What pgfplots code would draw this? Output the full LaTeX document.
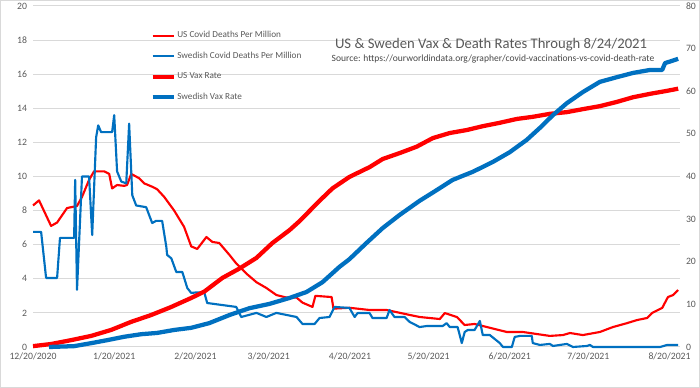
\documentclass[border=0pt]{standalone}
\usepackage{fontspec}
\setmainfont{Carlito}
\usepackage{pgfplots}
\pgfplotsset{compat=1.18}
\definecolor{usred}{RGB}{255,0,0}
\definecolor{seblue}{RGB}{0,112,192}
\definecolor{gridgray}{RGB}{217,217,217}
\definecolor{txtgray}{RGB}{89,89,89}
\begin{document}
\begin{tikzpicture}
\useasboundingbox (0,0) rectangle (525pt,291pt);
\draw[gridgray, line width=0.75pt] (0.4pt,0.4pt) rectangle (524.6pt,290.6pt);
\pgfplotsset{
  common/.style={
    at={(24.75pt,30.75pt)}, anchor=south west, scale only axis,
    width=485.25pt, height=255.75pt,
    xmin=0, xmax=247,
    axis line style={draw=none},
    major tick length=0pt,
    tick label style={font=\fontsize{7.3}{8}\selectfont, text=txtgray},
    /pgf/number format/assume math mode=true,
    clip=false,
  }
}
\begin{axis}[common,
  ymin=0, ymax=20, ytick={0,2,...,20},
  ymajorgrids, grid style={gridgray, line width=0.75pt},
  yticklabel style={xshift=-1pt},
  xtick={0,31,62,90,121,151,182,212,243},
  xticklabels={12/20/2020,1/20/2021,2/20/2021,3/20/2021,4/20/2021,5/20/2021,6/20/2021,7/20/2021,8/20/2021},
  xticklabel style={yshift=-1pt},
]
% US Covid deaths per million
\addplot[usred, line width=1.6pt, line join=round] coordinates {
(0,8.3) (2.3,8.6) (6.9,7.1) (9.2,7.3) (13,8.15) (16.8,8.27) (18.7,8.8) (21.4,9.8)
(23.3,10.3) (27.2,10.3) (29.1,10.15) (30.2,9.3) (32.1,9.5) (34.8,9.45) (35.9,9.5)
(37.5,10.15) (40.5,9.9) (42.4,9.6) (45.5,9.4) (47.4,9.25) (50.1,8.8) (53.9,8.0)
(57.7,7.04) (60.4,5.9) (62.7,5.75) (66.2,6.45) (68.5,6.16) (71.1,6.1) (75,5.4)
(77.6,4.9) (81.5,4.3) (85.3,3.8) (89.1,3.46) (92.9,3.05) (96.7,2.9) (100.6,2.9)
(102.9,2.6) (106.7,2.35) (107.8,3.0) (114,2.93) (114.7,2.25) (120.8,2.3) (128.5,2.17)
(135,2.17) (143.8,1.88) (147.6,1.76) (155.3,1.64) (157.2,1.99) (161.8,1.76) (164.8,1.29)
(168.6,1.35) (171.7,1.23) (180.9,0.88) (187,0.88) (197.3,0.65) (202.3,0.7) (205,0.82)
(209.9,0.7) (216.4,0.88) (221.4,1.17) (226.8,1.4) (230.6,1.58) (234.4,1.7) (236.3,1.99)
(240.2,2.29) (242.4,2.93) (244.4,3.05) (246.3,3.34)
};
% Swedish Covid deaths per million
\addplot[seblue, line width=1.6pt, line join=round] coordinates {
(0,6.75) (3.1,6.75) (5,4.05) (9.2,4.05) (10.3,6.4) (15.7,6.4) (16.1,9.8) (16.8,3.35)
(18.7,10.0) (21.4,10.0) (22.6,6.57) (24.1,12.3) (24.9,13.0) (26,12.6) (30.2,12.6)
(31,13.6) (32.1,10.3) (33.7,9.7) (35.6,9.6) (36.7,13.1) (37.9,8.9) (39.4,8.3) (43.2,8.2)
(45.5,7.27) (47,7.4) (49.3,7.4) (50.9,5.87) (51.2,5.4) (52.8,5.2) (54.7,4.4) (57,4.4)
(58.9,3.46) (60.4,3.17) (62.3,3.2) (65.4,3.2) (66.5,2.58) (72.3,2.46) (77.6,2.35)
(79.5,1.76) (85.3,2.0) (89.1,1.76) (92.9,2.0) (100.6,1.76) (102.9,1.35) (107.5,1.35)
(109.4,1.7) (113.2,1.76) (115.1,2.35) (120.8,2.29) (122.8,1.76) (123.9,1.99) (128.5,1.99)
(129.6,1.7) (135,1.7) (136.1,2.17) (138,1.76) (141.9,1.76) (143.8,1.47) (147.6,1.17)
(150.3,1.23) (156.4,1.23) (157.9,1.4) (159.1,1.17) (162.1,1.17) (163.7,0.23) (164.8,0.88)
(166,1.0) (168.6,1.0) (170.6,1.53) (171.7,0.7) (174.4,0.7) (178.2,0.23) (179.4,0)
(182.8,0) (183.9,0.59) (185.9,0.65) (190.4,0.65) (190.8,0.23) (193.5,0.12) (197.3,0.18)
(198.5,0.06) (203.8,0.18) (206.1,0) (211.5,0.06) (212.6,0.12) (213.8,0) (239.4,0)
(242.1,0.12) (246.3,0.12)
};
\end{axis}
\begin{axis}[common,
  axis y line*=right,
  ymin=0, ymax=80, ytick={0,10,...,80},
  yticklabel style={xshift=1pt},
  xtick=\empty,
  legend style={at={(0.181,0.93)}, anchor=north west, draw=none, fill=none,
    font=\fontsize{6.9}{7}\selectfont, text=txtgray, row sep=7.2pt,
    inner sep=0pt, nodes={inner sep=1pt}},
  legend cell align=left,
  legend image code/.code={\draw[#1] (0pt,0pt) -- (16pt,0pt);},
]
\addlegendimage{usred, line width=1.6pt}
\addlegendentry{US Covid Deaths Per Million}
\addlegendimage{seblue, line width=1.6pt}
\addlegendentry{Swedish Covid Deaths Per Million}
% US vax rate
\addplot[usred, line width=3.2pt, line join=round] coordinates {
(0,0.2) (6.9,0.7) (14.5,1.6) (22.2,2.6) (29.8,4.0) (37.5,5.9) (45.1,7.5) (52.8,9.4)
(60.4,11.5) (65.4,13.0) (72.3,16.2) (78.8,18.4) (85.3,20.9) (91.4,24.4) (97.9,27.4)
(101.7,29.5) (109.4,34.3) (114.3,37.2) (120.8,39.9) (128.5,42.2) (133.5,44.1) (140,45.5)
(146.5,47) (152.6,49) (159.1,50.2) (165.6,50.9) (171.7,51.8) (178.2,52.6) (184.7,53.5)
(190.8,54.0) (197.3,54.7) (203.8,55.1) (209.9,55.8) (216.4,56.5) (222.9,57.5)
(229.1,58.6) (235.6,59.4) (242.1,60.1) (246.3,60.6)
};
\addlegendentry{US Vax Rate}
% Swedish vax rate
\addplot[seblue, line width=3.2pt, line join=round] coordinates {
(6.1,0) (15.7,0.2) (22.2,0.9) (28.3,1.6) (34.8,2.4) (41.3,3.0) (47.4,3.3) (53.9,4.0)
(60.4,4.5) (67.3,5.6) (75,7.5) (82.6,9.1) (90.2,10.1) (97.9,11.5) (104.4,12.9)
(110.5,15.2) (117,18.8) (120.8,20.6) (127.3,24.4) (133.5,27.9) (140,31) (147.6,34.3)
(154.1,36.8) (160.2,39.2) (167.9,41.1) (175.5,43.4) (182,45.7) (188.5,48.6) (193.5,51.4)
(198.5,54.4) (203.8,57.2) (209.9,59.8) (216.4,62.2) (222.9,63.3) (229.1,64.3)
(235.6,65) (240.2,65) (241.3,66.6) (246.3,67.6)
};
\addlegendentry{Swedish Vax Rate}
\node[anchor=base, font=\fontsize{11}{12}\selectfont, text=txtgray] at (rel axis cs:0.708,0.875) {US \& Sweden Vax \& Death Rates Through 8/24/2021};
\node[anchor=base, font=\fontsize{7.15}{8}\selectfont, text=txtgray!80!black] at (rel axis cs:0.711,0.836) {Source: https://ourworldindata.org/grapher/covid-vaccinations-vs-covid-death-rate};
\end{axis}
\end{tikzpicture}
\end{document}
